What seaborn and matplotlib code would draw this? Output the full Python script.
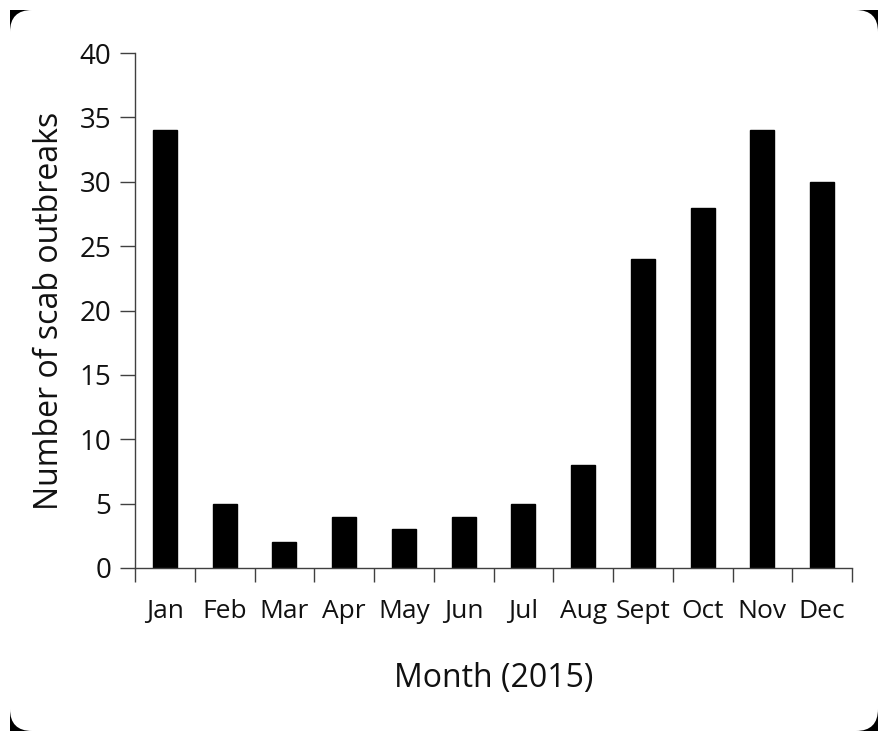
import matplotlib
matplotlib.use('Agg')
import matplotlib.pyplot as plt
import seaborn as sns
import pandas as pd
from matplotlib.patches import Rectangle, FancyBboxPatch

# data
months = ['Jan', 'Feb', 'Mar', 'Apr', 'May', 'Jun', 'Jul', 'Aug', 'Sept', 'Oct', 'Nov', 'Dec']
outbreaks = [34, 5, 2, 4, 3, 4, 5, 8, 24, 28, 34, 30]
y_ticks = [0, 5, 10, 15, 20, 25, 30, 35, 40]

sns.set_style('ticks')
plt.rcParams['font.family'] = ['Open Sans', 'DejaVu Sans']
plt.rcParams['text.color'] = '#111111'
plt.rcParams['axes.labelcolor'] = '#111111'
plt.rcParams['xtick.labelcolor'] = '#111111'
plt.rcParams['ytick.labelcolor'] = '#111111'

df = pd.DataFrame({'month': months, 'count': outbreaks})

fig = plt.figure(figsize=(8.82, 7.31), dpi=100)

# rounded frame with dark corners
W, H = 882, 731
fig.patches.append(Rectangle((10 / W, 0), 868 / W, 721 / H, transform=fig.transFigure,
                             facecolor='black', edgecolor='none', zorder=-2))
fig.patches.append(FancyBboxPatch((10 / W, 0), 868 / W, 721 / H, transform=fig.transFigure,
                                  boxstyle='round,pad=0,rounding_size=0.025',
                                  mutation_aspect=W / H,
                                  facecolor='white', edgecolor='none', zorder=-1))

ax = fig.add_axes([135 / W, 1 - 568 / H, (852 - 135) / W, (568 - 53) / H])
ax.patch.set_alpha(0)
sns.barplot(data=df, x='month', y='count', color='black', width=0.4,
            saturation=1, ax=ax)
for p in ax.patches:
    p.set_edgecolor('black')

ax.set_xlim(-0.5, len(months) - 0.5)
ax.set_ylim(0, 40)
ax.set_yticks(y_ticks)
ax.tick_params(axis='y', labelsize=20, length=11, width=1, color='#404040', pad=6)

# ticks between categories on the x axis
ax.set_xticks([i - 0.5 for i in range(len(months) + 1)], minor=False)
ax.set_xticklabels([])
ax.set_xticks(range(len(months)), minor=True)
ax.set_xticklabels(months, minor=True)
ax.tick_params(axis='x', which='major', length=10, width=1, color='#404040')
ax.tick_params(axis='x', which='minor', length=0, labelsize=19, pad=22)

for s in ['top', 'right']:
    ax.spines[s].set_visible(False)
for s in ['left', 'bottom']:
    ax.spines[s].set_color('#404040')
    ax.spines[s].set_linewidth(1)

ax.set_xlabel('Month (2015)', fontsize=23, labelpad=28)
ax.set_ylabel('Number of scab outbreaks', fontsize=23, labelpad=10)

fig.savefig('out.png', dpi=100)
